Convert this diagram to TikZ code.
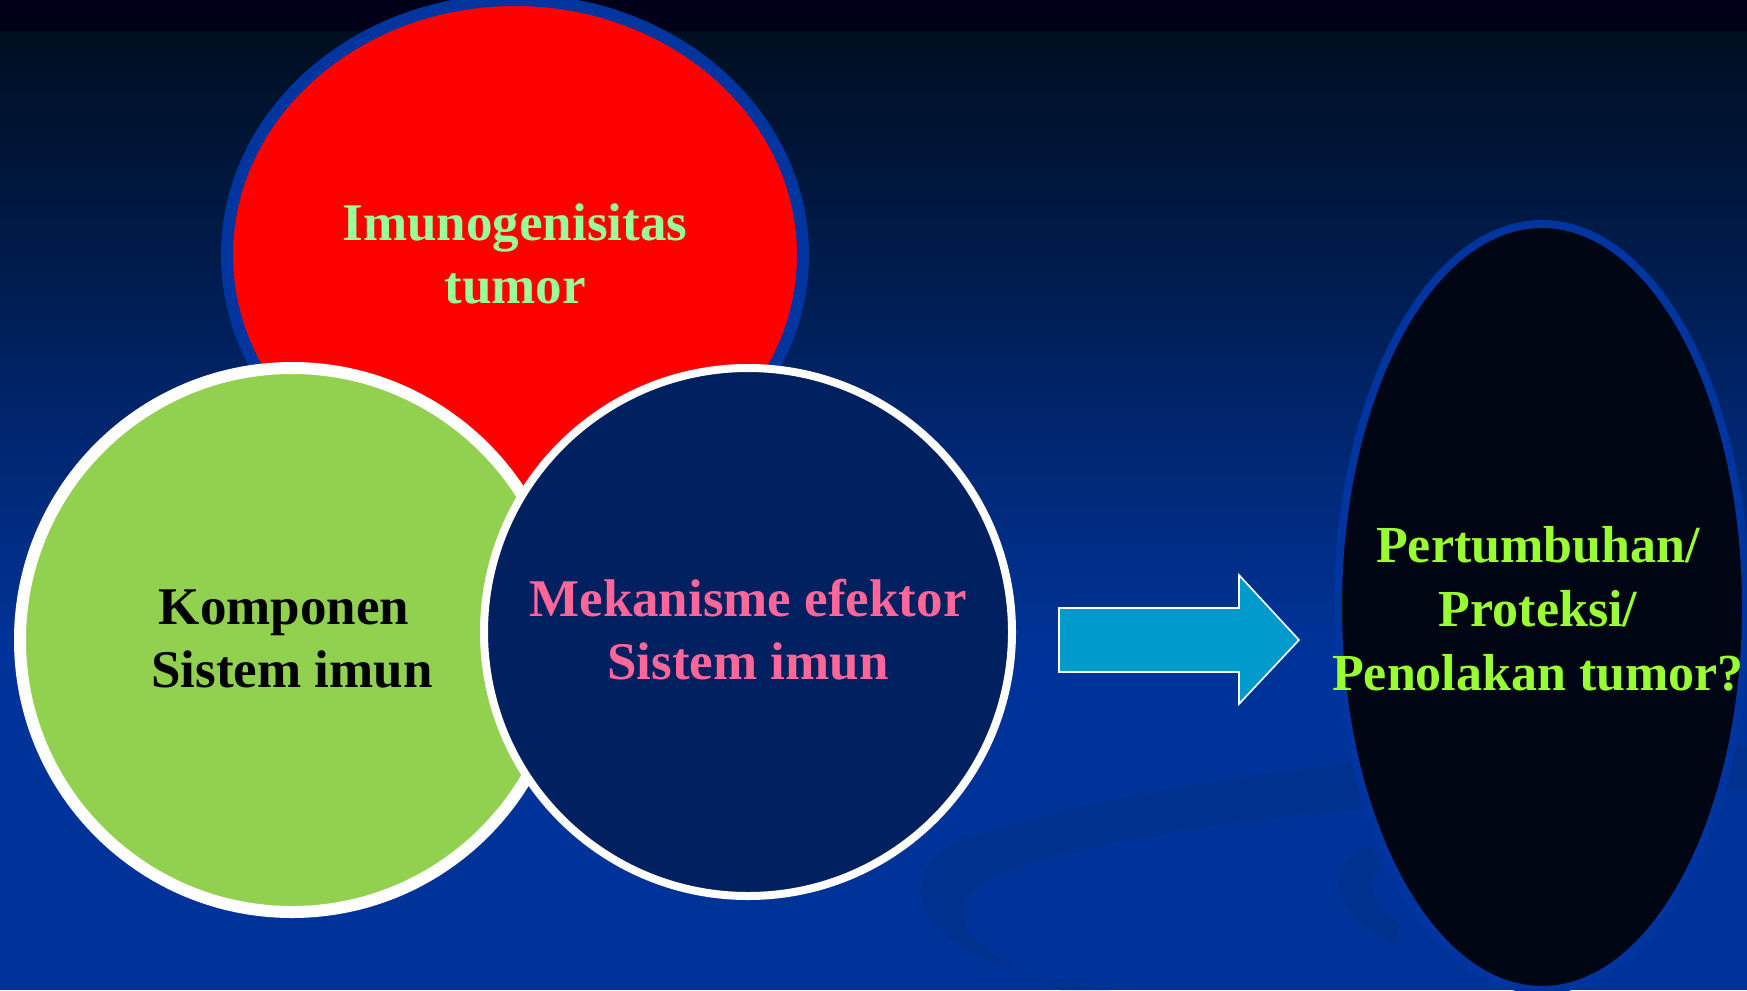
\documentclass[tikz,border=0pt]{standalone}
\usepackage{fontspec}
\setmainfont{Liberation Serif}
\usetikzlibrary{shapes.geometric}
\definecolor{bgtop}{HTML}{000018}
\definecolor{bgdark}{HTML}{000E20}
\definecolor{bgblue}{HTML}{003399}
\definecolor{ring}{HTML}{0035A0}
\definecolor{redfill}{HTML}{FF0000}
\definecolor{greenfill}{HTML}{92D050}
\definecolor{navyfill}{HTML}{002060}
\definecolor{blackfill}{HTML}{000614}
\definecolor{arrowfill}{HTML}{009BCC}
\definecolor{txtlight}{HTML}{99FF99}
\definecolor{txtpink}{HTML}{FF6699}
\definecolor{txtlime}{HTML}{99FF33}
\definecolor{swoosh}{HTML}{00318F}
\begin{document}
\begin{tikzpicture}[x=1pt,y=-1pt,
  lbl/.style={font=\fontsize{53}{63}\selectfont\bfseries, align=center, inner sep=0pt},
  ovalshape/.style={ellipse, inner sep=0pt},
  roundshape/.style={circle, inner sep=0pt, draw=white},
  arrowshape/.style={fill=arrowfill, draw=white, line width=1.6pt, line join=miter}]
\useasboundingbox (0,0) rectangle (1747,990);
% background
\fill[bgblue] (0,640) rectangle (1747,990);
\shade[top color=bgdark, bottom color=bgblue] (0,31) rectangle (1747,650);
\fill[bgtop] (0,0) rectangle (1747,31);
% decorative swooshes
\fill[swoosh] (1747,745) .. controls (1450,735) and (1100,790) .. (960,840)
  .. controls (900,870) and (905,930) .. (1000,965)
  .. controls (1040,978) and (1080,986) .. (1110,990)
  -- (1060,990) .. controls (990,960) and (950,930) .. (968,895)
  .. controls (1000,850) and (1300,795) .. (1747,790) -- cycle;
\fill[swoosh] (1370,845) .. controls (1330,865) and (1320,905) .. (1395,945)
  -- (1400,925) .. controls (1370,905) and (1365,880) .. (1380,865) -- cycle;
% red ellipse
\node[ovalshape, draw=ring, line width=12pt, fill=redfill,
  minimum width=576pt, minimum height=510pt] (imuno) at (515,255) {};
\node[lbl, text=txtlight] (imunotxt) at (515,254) {Imunogenisitas\\tumor};
% green circle
\node[roundshape, line width=12pt, fill=greenfill, minimum size=544pt] (komp) at (292,640) {};
\node[lbl, text=black] (komptxt) at (292,639) {Komponen\hspace*{16pt}\\Sistem imun};
% navy circle
\node[roundshape, line width=8pt, fill=navyfill, minimum size=528pt] (meka) at (748,632) {};
\node[lbl, text=txtpink] (mekatxt) at (748,630) {Mekanisme efektor\\Sistem imun};
% arrow
\draw[arrowshape] (1059,608) -- (1239,608) -- (1239,575) -- (1299,640)
  -- (1239,704) -- (1239,672) -- (1059,672) -- cycle;
% black ellipse
\node[ovalshape, draw=ring, line width=8pt, fill=blackfill,
  minimum width=408pt, minimum height=766pt] (hasil) at (1542,607) {};
\node[lbl, text=txtlime, font=\fontsize{52}{64}\selectfont\bfseries] (hasiltxt) at (1538,609)
  {Pertumbuhan/\\Proteksi/\\Penolakan tumor?};
\end{tikzpicture}
\end{document}
